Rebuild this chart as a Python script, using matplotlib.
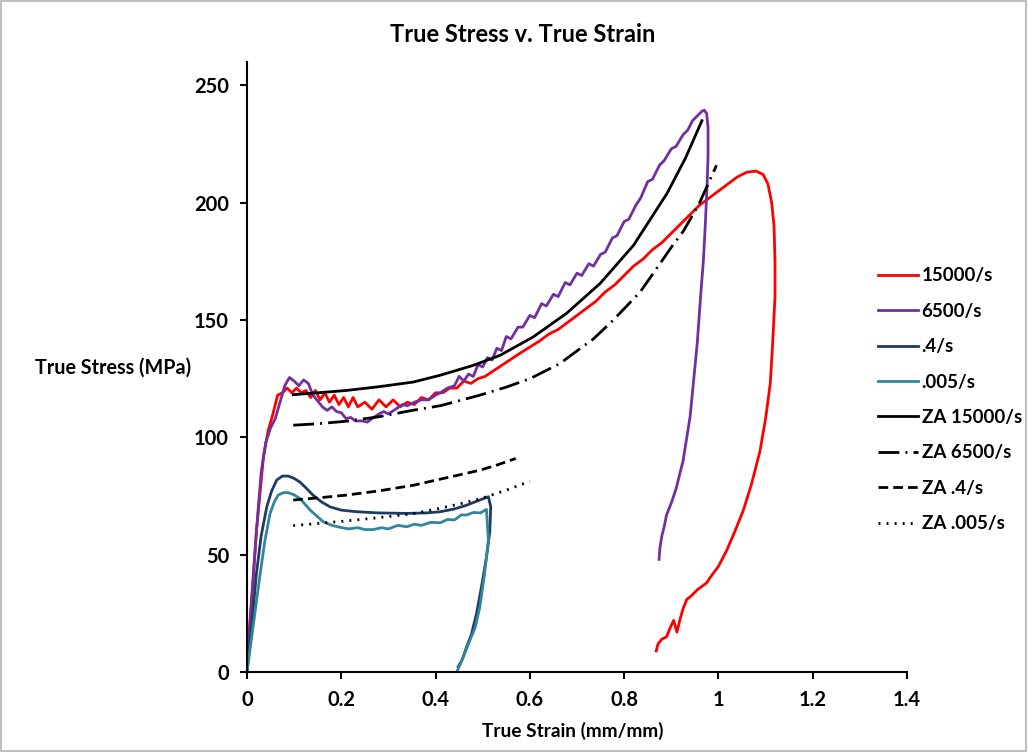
import matplotlib.pyplot as plt
from matplotlib.patches import Rectangle

plt.rcParams['font.family'] = ['Lato', 'DejaVu Sans']
plt.rcParams['font.weight'] = 'bold'

# measured curves (true strain, true stress MPa)
strain_15000 = [0, 0.006, 0.02, 0.035, 0.045, 0.055, 0.065, 0.075, 0.085, 0.095, 0.105, 0.115, 0.125,
                0.135, 0.145, 0.155, 0.165, 0.175, 0.185, 0.195, 0.205, 0.215, 0.225, 0.235, 0.25,
                0.265, 0.28, 0.295, 0.31, 0.325, 0.34, 0.355, 0.37, 0.385, 0.4, 0.415, 0.43, 0.445,
                0.46, 0.475, 0.49, 0.505, 0.52, 0.535, 0.55, 0.565, 0.58, 0.6, 0.62, 0.64, 0.66,
                0.68, 0.70, 0.72, 0.74, 0.76, 0.78, 0.80, 0.82, 0.84, 0.86, 0.88, 0.90, 0.92, 0.94,
                0.96, 0.98, 1.0, 1.02, 1.04, 1.06, 1.08, 1.095, 1.105, 1.113, 1.118, 1.12, 1.12,
                1.115, 1.11, 1.10, 1.088, 1.07, 1.053, 1.035, 1.018, 1.0, 0.985, 0.975, 0.955,
                0.94, 0.933, 0.925, 0.918, 0.912, 0.905, 0.898, 0.89, 0.88, 0.872, 0.868]
stress_15000 = [5, 21, 60, 92, 103, 110, 118, 119, 121, 119, 121, 119, 120,
                117, 120, 116, 119, 115, 118, 114, 117, 113, 117, 113, 115,
                112, 116, 113, 116, 113, 115, 114, 117, 116, 119, 119, 121, 121,
                124, 123, 125, 126, 128, 130, 132, 134, 136, 138.5, 141, 144, 146,
                149, 152, 155, 158, 162, 165, 169, 173, 176, 180, 183, 187, 191, 195,
                199, 202, 205, 208, 211, 213, 213.5, 212, 208, 200, 190, 175, 160,
                140, 123, 108, 94, 80, 69, 60, 52, 45, 41, 38, 35,
                32, 31, 27, 22, 17, 22, 19, 15, 14, 12, 9]

strain_6500 = [0, 0.01, 0.02, 0.03, 0.04, 0.05, 0.06, 0.07, 0.08, 0.09, 0.1, 0.11, 0.12, 0.13,
               0.14, 0.15, 0.16, 0.17, 0.18, 0.19, 0.2, 0.21, 0.22, 0.23, 0.245, 0.255, 0.265,
               0.28, 0.29, 0.3, 0.315, 0.33, 0.34, 0.355, 0.37, 0.385, 0.4, 0.41, 0.425, 0.44,
               0.45, 0.46, 0.47, 0.48, 0.49, 0.50, 0.51, 0.52, 0.53, 0.54, 0.55, 0.56,
               0.575, 0.585, 0.60, 0.61, 0.625, 0.635, 0.65, 0.66, 0.675, 0.685, 0.70, 0.71,
               0.725, 0.735, 0.75, 0.76, 0.775, 0.785, 0.80, 0.81, 0.825, 0.835, 0.85, 0.86,
               0.875, 0.885, 0.90, 0.91, 0.925, 0.935, 0.945, 0.955, 0.965, 0.97, 0.975, 0.978,
               0.978, 0.976, 0.972, 0.968, 0.964, 0.955, 0.94, 0.925, 0.91, 0.9, 0.89, 0.885,
               0.88, 0.876, 0.874]
stress_6500 = [2, 30, 60, 85, 98, 104, 108, 115, 122, 125.5, 124, 122, 124.5, 123,
               118, 115.5, 113, 111.5, 113, 111, 110.5, 108, 108.5, 107, 107, 106.5, 108,
               110, 111, 110, 112, 114, 113.5, 115, 116, 116, 118, 119, 121, 122,
               126, 124, 127, 126, 131, 130, 134, 133, 138, 137, 143, 142,
               147, 147, 152, 151, 157, 156, 161, 160, 166, 165, 170, 169,
               174, 173, 178, 179, 185, 186, 192, 193, 199, 202, 209, 210,
               216, 218, 223, 224, 229, 231, 235, 237, 239, 239.5, 238, 232,
               220, 208, 190, 175, 165, 140, 109, 90, 78, 72, 67, 62,
               58, 53, 48]

strain_04 = [0, 0.01, 0.02, 0.03, 0.042, 0.052, 0.063, 0.075, 0.088, 0.1, 0.112, 0.125, 0.14,
             0.158, 0.176, 0.2, 0.233, 0.28, 0.339, 0.38, 0.41, 0.44, 0.466, 0.49, 0.512,
             0.517, 0.515, 0.508, 0.498, 0.487, 0.476, 0.466, 0.456, 0.448]
stress_04 = [0, 20, 42, 58, 70.4, 77, 81.8, 83.5, 83.5, 82.5, 81, 78.5, 75.4,
             72.5, 70.4, 69, 68.3, 67.8, 67.6, 67.8, 68.3, 69.5, 71.1, 73, 74.7,
             70.4, 60, 49, 37, 25, 16, 10.8, 5, 2.3]

strain_0005 = [0, 0.012, 0.028, 0.038, 0.049, 0.058, 0.066, 0.078, 0.088, 0.1, 0.112, 0.123, 0.134,
               0.148, 0.162, 0.18, 0.197, 0.215, 0.235, 0.25, 0.268, 0.285, 0.3, 0.32, 0.339,
               0.355, 0.37, 0.39, 0.41, 0.425, 0.44, 0.455, 0.466, 0.48, 0.495, 0.508,
               0.512, 0.504, 0.494, 0.484, 0.473, 0.46, 0.445]
stress_0005 = [0, 18, 42, 56, 67.6, 72.5, 75.4, 76.5, 76.4, 75.5, 74, 71.5, 69,
               66.5, 64, 62.5, 61.7, 61, 61.5, 60.7, 60.7, 61.5, 61, 62.5, 61.9,
               63, 62.5, 63.8, 63.6, 65, 64.8, 67, 66.9, 68, 67.8, 69.3,
               56, 42, 27.8, 19, 13.6, 7, 0]

# ZA model curves
za_strain_15000 = [0.098, 0.15, 0.211, 0.28, 0.353, 0.41, 0.48, 0.537, 0.607, 0.678, 0.749,
                   0.82, 0.891, 0.93, 0.965]
za_stress_15000 = [118.2, 119, 120, 121.6, 123.6, 126.5, 130.7, 135, 142.8, 152.9, 165.6,
                   181.9, 204, 219, 235]
za_strain_6500 = [0.098, 0.15, 0.211, 0.28, 0.353, 0.41, 0.494, 0.551, 0.6, 0.664, 0.692,
                  0.735, 0.777, 0.834, 0.862, 0.9, 0.926, 0.96, 0.996]
za_stress_6500 = [105.2, 105.8, 106.9, 108.8, 111.6, 113.5, 118, 121.5, 125, 131.5, 135.7,
                  142, 150, 162, 170, 181, 188, 200, 216]
za_strain_04 = [0.098, 0.15, 0.211, 0.28, 0.353, 0.41, 0.45, 0.494, 0.53, 0.57]
za_stress_04 = [73.3, 74.2, 75.4, 77.2, 79.6, 82.2, 84, 86, 88.2, 91]
za_strain_0005 = [0.098, 0.15, 0.211, 0.28, 0.353, 0.41, 0.45, 0.494, 0.55, 0.6]
za_stress_0005 = [62.4, 63.3, 64.4, 65.8, 67.5, 69.8, 71.6, 73.8, 77.5, 81.3]

fig = plt.figure(figsize=(10.28, 7.52), dpi=100)
ax = fig.add_axes([247 / 1028, 1 - 672 / 752, 660 / 1028, 610 / 752])

ax.plot(strain_15000, stress_15000, color='#FF0000', lw=2, label='15000/s')
ax.plot(strain_6500, stress_6500, color='#7030A0', lw=2, label='6500/s')
ax.plot(strain_04, stress_04, color='#1F3B64', lw=2, label='.4/s')
ax.plot(strain_0005, stress_0005, color='#31859C', lw=2, label='.005/s')
ax.plot(za_strain_15000, za_stress_15000, color='black', lw=2, label='ZA 15000/s')
ax.plot(za_strain_6500, za_stress_6500, color='black', lw=2, dashes=(7.5, 2.2, 0.7, 2.2), label='ZA 6500/s')
ax.plot(za_strain_04, za_stress_04, color='black', lw=2, dashes=(3.5, 1.8), label='ZA .4/s')
ax.plot(za_strain_0005, za_stress_0005, color='black', lw=2, dashes=(0.7, 2.2), label='ZA .005/s')

ax.set_xlim(0, 1.4)
ax.set_ylim(0, 260)
ax.set_xticks([0, 0.2, 0.4, 0.6, 0.8, 1, 1.2, 1.4])
ax.set_xticklabels(['0', '0.2', '0.4', '0.6', '0.8', '1', '1.2', '1.4'])
ax.set_yticks([0, 50, 100, 150, 200, 250])
ax.spines['top'].set_visible(False)
ax.spines['right'].set_visible(False)
for s in ['left', 'bottom']:
    ax.spines[s].set_linewidth(1.5)
ax.tick_params(direction='out', length=5, width=1.5, labelsize=14.5, pad=8)
for lab in ax.get_xticklabels() + ax.get_yticklabels():
    lab.set_fontweight('bold')

fig.text(0.508, 1 - 35 / 752, 'True Stress v. True Strain', ha='center', va='center',
         fontsize=17, fontweight='bold')
fig.text(35 / 1028, 1 - 368 / 752, 'True Stress (MPa)', ha='left', va='center',
         fontsize=14.2, fontweight='bold')
fig.text(573 / 1028, 1 - 731 / 752, 'True Strain (mm/mm)', ha='center', va='center',
         fontsize=13.7, fontweight='bold')

fig.legend(loc='upper left', bbox_to_anchor=(870 / 1028, 1 - 260 / 752), frameon=False,
           prop={'size': 13.5, 'weight': 'bold'}, handlelength=2.15, handletextpad=0.2,
           labelspacing=0.98, borderaxespad=0)

fig.add_artist(Rectangle((0.0005, 0.001), 0.998, 0.998, transform=fig.transFigure,
                         fill=False, edgecolor='#BFBFBF', lw=1.5))

fig.savefig('out.png', dpi=100)
